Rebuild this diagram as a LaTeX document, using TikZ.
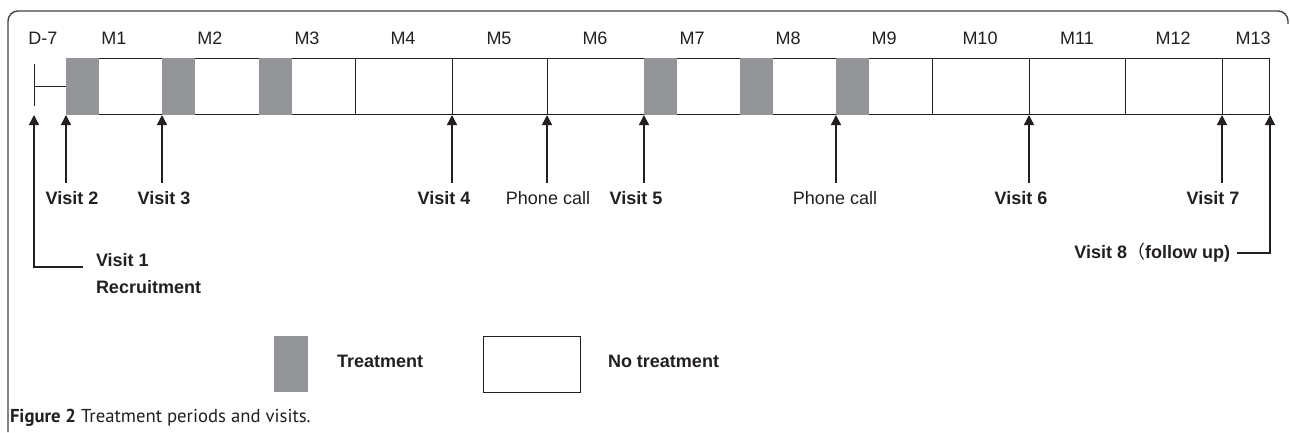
\documentclass[tikz,border=0pt]{standalone}
\usepackage{fontspec}
\setmainfont{Liberation Sans}
\newfontfamily\capfont{PT Sans}
\newfontfamily\cjk{Noto Sans CJK SC}
\usetikzlibrary{arrows.meta}
\definecolor{ink}{HTML}{231F20}
\definecolor{trt}{HTML}{939598}
\begin{document}
\begin{tikzpicture}[x=1pt,y=-1pt,
  every node/.style={inner sep=0pt,outer sep=0pt,text=ink,font=\fontsize{18}{20}\selectfont},
  bold/.style={font=\fontsize{18}{20}\selectfont\bfseries},
  frame/.style={draw=ink!85,line width=1.4pt},
  cell/.style={draw=ink,line width=1pt},
  trtfill/.style={fill=trt},
  visitarrow/.style={draw=ink,line width=1.4pt,-{Triangle[length=10pt,width=10pt]}},
  thinline/.style={draw=ink,line width=1pt}]
\useasboundingbox (0,0) rectangle (1290,432);
% outer frame
\draw[frame] (8,432) -- (8,21) arc[start angle=180,end angle=270,radius=10] -- (1278,11) arc[start angle=270,end angle=360,radius=10] -- (1288,24);
% timeline bar
\draw[cell] (66,58) rectangle (1269,114);
\foreach \b in {162,259,355,452,547,644,740,836,932,1029,1125,1222}
  \draw[cell] (\b,58) -- (\b,114);
\foreach \b in {66,162,259,644,740,836}
  \fill[trtfill] (\b,57.5) rectangle ++(33,57);
% month labels
\node (d7) at (43,38) {D-7};
\foreach \n/\x in {1/114,2/210,3/307,4/403,5/499,6/595,7/692,8/788,9/884,10/980,11/1077,12/1173,13/1253}
  \node (m\n) at (\x,38) {M\n};
% D-7 bracket
\coordinate (d7top) at (34,64);
\coordinate (d7bot) at (34,106);
\coordinate (d7mid) at (34,86);
\coordinate (barstart) at (66,86);
\draw[thinline] (d7top) -- (d7bot);
\draw[thinline] (d7mid) -- (barstart);
% arrow targets on bar bottom
\foreach \name/\x in {t1/34,t2/66,t3/162,t4/452,tp1/547,t5/644,tp2/836,t6/1029,t7/1222,t8/1270}
  \coordinate (\name) at (\x,115);
\foreach \name/\x in {s2/66,s3/162,s4/452,sp1/547,s5/644,sp2/836,s6/1029,s7/1222}
  \coordinate (\name) at (\x,183);
% visit labels
\node[bold] (v2) at (72,198) {Visit 2};
\node[bold] (v3) at (164,198) {Visit 3};
\node[bold] (v4) at (444,198) {Visit 4};
\node (p1) at (548,198) {Phone call};
\node[bold] (v5) at (636,198) {Visit 5};
\node (p2) at (835,198) {Phone call};
\node[bold] (v6) at (1021,198) {Visit 6};
\node[bold] (v7) at (1213,198) {Visit 7};
\node[bold,anchor=west] (v1) at (96,260) {Visit 1};
\node[bold,anchor=west] (rec) at (96,287) {Recruitment};
\node[bold,anchor=east] (v8) at (1230,253) {Visit 8{\cjk\mdseries （}follow up)};
% arrows
\foreach \s/\t in {s2/t2,s3/t3,s4/t4,sp1/tp1,s5/t5,sp2/tp2,s6/t6,s7/t7}
  \draw[visitarrow] (\s) -- (\t);
\coordinate (v1end) at (83,267);
\coordinate (v1corner) at (34,267);
\draw[visitarrow] (v1end) -- (v1corner) -- (t1);
\coordinate (v8end) at (1237,253);
\coordinate (v8corner) at (1270,253);
\draw[visitarrow] (v8end) -- (v8corner) -- (t8);
% legend
\fill[trtfill] (274,336) rectangle (308,392);
\node[bold,anchor=west] (ltrt) at (337,361) {Treatment};
\draw[cell] (483,336) rectangle (580,392);
\node[bold,anchor=west] (lno) at (608,361) {No treatment};
% caption
\node[anchor=west,font=\capfont\fontsize{18.7}{21}\selectfont] (cap) at (10,418) {\textbf{Figure 2} Treatment periods and visits.};
\end{tikzpicture}
\end{document}
